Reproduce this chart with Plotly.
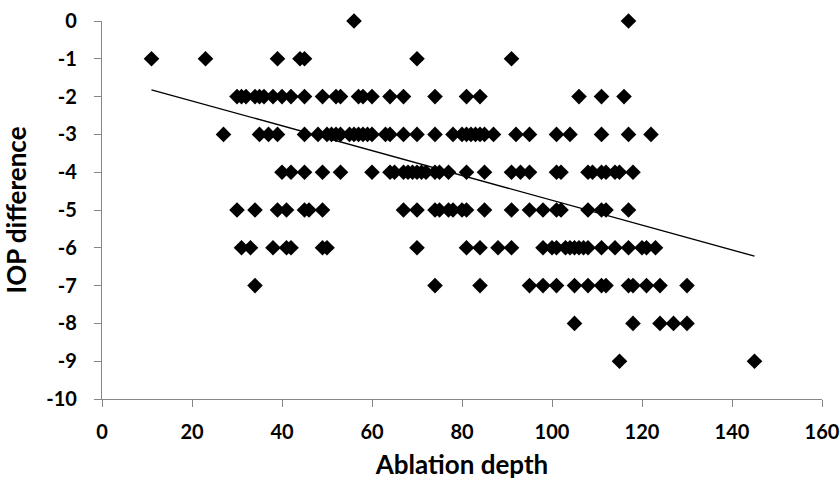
import plotly.graph_objects as go

# IOP difference rows (y value) -> ablation depths (x values)
row_0 = [56, 117]
row_m1 = [11, 23, 39, 44, 45, 70, 91]
row_m2 = [30, 31, 32, 34, 35, 36, 38, 40, 42, 45, 49, 52, 53, 57, 58, 60, 64, 67, 74, 81, 84, 106, 111, 116]
row_m3 = [27, 35, 37, 39, 45, 48, 50, 51, 52, 53, 55, 56, 57, 58, 59, 60, 63, 64, 67, 70, 74, 78, 80, 81, 82, 83, 84, 85, 87, 92, 95, 101, 104, 111, 117, 122]
row_m4 = [40, 42, 45, 49, 53, 60, 64, 65, 67, 68, 69, 70, 71, 72, 74, 75, 77, 81, 85, 91, 93, 95, 101, 102, 108, 109, 111, 112, 114, 115, 118]
row_m5 = [30, 34, 39, 41, 45, 46, 49, 67, 70, 74, 75, 77, 78, 80, 81, 85, 91, 95, 98, 101, 102, 108, 111, 112, 117]
row_m6 = [31, 33, 38, 41, 42, 49, 50, 70, 81, 84, 88, 91, 98, 100, 101, 103, 104, 105, 106, 107, 108, 111, 114, 117, 120, 121, 123]
row_m7 = [34, 74, 84, 95, 98, 101, 105, 108, 111, 112, 117, 118, 121, 124, 130]
row_m8 = [105, 118, 124, 127, 130]
row_m9 = [115, 145]

rows = {0: row_0, -1: row_m1, -2: row_m2, -3: row_m3, -4: row_m4,
        -5: row_m5, -6: row_m6, -7: row_m7, -8: row_m8, -9: row_m9}

ablation_depth = []
iop_difference = []
for yv, xs in rows.items():
    for xv in xs:
        ablation_depth.append(xv)
        iop_difference.append(yv)

# Linear trendline endpoints
trend_x = [11, 145]
trend_y = [-1.82, -6.22]

x_ticks = [0, 20, 40, 60, 80, 100, 120, 140, 160]
y_ticks = [0, -1, -2, -3, -4, -5, -6, -7, -8, -9, -10]

FONT = "Lato, 'Open Sans', 'Liberation Sans', sans-serif"

fig = go.Figure()
fig.add_trace(go.Scatter(
    x=ablation_depth, y=iop_difference, mode="markers",
    marker=dict(symbol="diamond", size=12, color="black", line=dict(width=0)),
    cliponaxis=False, showlegend=False,
))
fig.add_trace(go.Scatter(
    x=trend_x, y=trend_y, mode="lines",
    line=dict(color="black", width=1.4),
    showlegend=False,
))

axis_common = dict(
    showgrid=False, zeroline=False, showline=True, automargin=False,
    linecolor="#868686", linewidth=1.3,
    ticks="outside", tickcolor="#868686", ticklen=7, tickwidth=1.3,
    tickfont=dict(family=FONT, size=20, color="black", weight="bold"),
)

fig.update_layout(
    width=840, height=485,
    margin=dict(l=102, r=18, t=21, b=86),
    plot_bgcolor="white", paper_bgcolor="white",
    xaxis=dict(range=[0, 160], tickvals=x_ticks, ticktext=[str(v) for v in x_ticks],
               ticklabelstandoff=8,
               title=dict(text="Ablation depth", font=dict(family=FONT, size=26, color="black", weight="bold"),
                          standoff=13),
               **axis_common),
    yaxis=dict(range=[-10, 0], tickvals=y_ticks, ticktext=[str(v) for v in y_ticks],
               ticklabelstandoff=13,
               title=dict(text="IOP difference", font=dict(family=FONT, size=26, color="black", weight="bold"),
                          standoff=16),
               **axis_common),
)

fig.write_html("out.html", config={"displayModeBar": False},
               post_script="document.body.style.margin='0px';")
